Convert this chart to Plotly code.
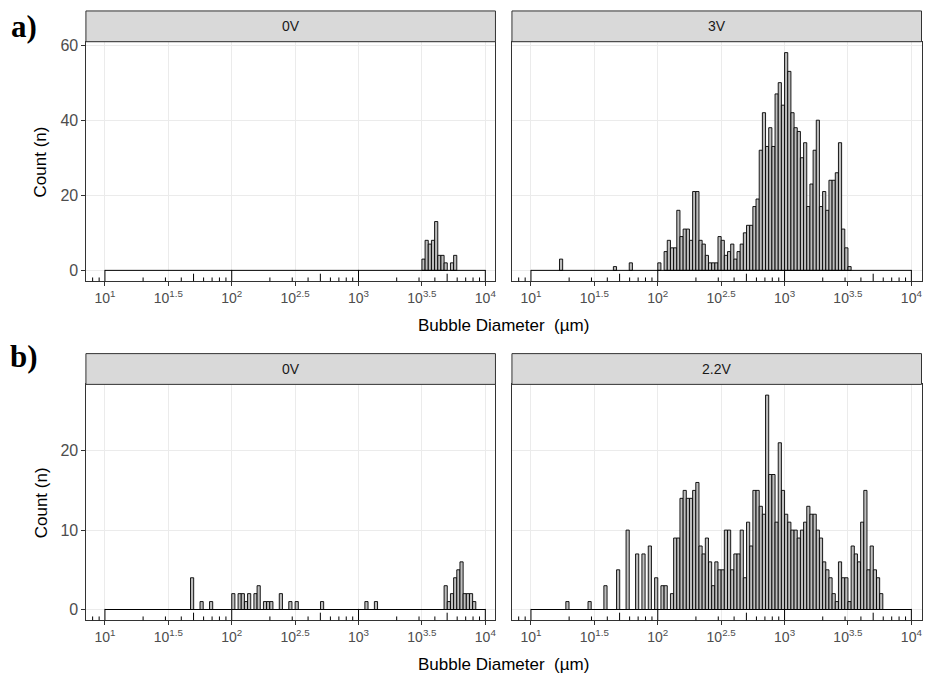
import numpy as np
import plotly.graph_objects as go

W, H = 927, 679

# ---- histogram bins on log10(diameter): 0.025-decade bins from 10^1 to 10^4 ----
BIN_WIDTH = 0.025
N_BINS = 120
bin_edges = 1.0 + BIN_WIDTH * np.arange(N_BINS + 1)
bin_mids = bin_edges[:-1] + BIN_WIDTH / 2

# ---- counts per bin: isolated bins {bin index: count} plus one contiguous run ----
a_0v_isolated = {}
a_0v_run_start = 100
a_0v_run = [3, 8, 7, 8, 13, 4, 4, 2, 0, 2, 4]

a_3v_isolated = {9: 3, 26: 1, 31: 2}
a_3v_run_start = 40
a_3v_run = [2, 0, 5, 8, 6, 6, 16, 9, 11, 11, 8, 21, 21, 8, 7, 4, 2, 2, 2, 9,
            8, 4, 5, 7, 3, 5, 7, 10, 12, 12, 17, 19, 32, 42, 33, 38, 33, 47, 50, 44,
            58, 53, 42, 38, 37, 30, 34, 17, 23, 32, 40, 17, 21, 16, 24, 24, 26, 34, 11, 6, 1]

b_0v_isolated = {27: 4, 30: 1, 33: 1, 40: 2, 42: 2, 43: 2, 44: 1, 45: 2, 47: 2, 48: 3,
                 50: 1, 51: 1, 52: 1, 55: 2, 58: 1, 60: 1, 68: 1, 82: 1, 85: 1}
b_0v_run_start = 107
b_0v_run = [3, 1, 2, 4, 5, 6, 2, 2, 2, 1]

b_22v_isolated = {11: 1, 18: 1, 23: 3, 27: 5, 30: 10, 33: 7, 35: 7, 37: 8, 39: 4, 41: 3, 42: 3}
b_22v_run_start = 44
b_22v_run = [2, 9, 9, 14, 15, 14, 14, 15, 16,
             8, 7, 9, 6, 3, 6, 5, 5, 10, 10, 5, 7, 7, 10, 4, 11, 8, 15, 15, 13, 12,
             27, 17, 17, 11, 21, 15, 12, 11, 10, 10, 9, 10, 11, 13, 12, 12, 10, 9, 6, 5,
             4, 2, 1, 6, 4, 4, 1, 8, 7, 6, 11, 15, 5, 8, 5, 4, 2]

facet_labels = ["0V", "3V", "0V", "2.2V"]
row_labels = ["a)", "b)"]
x_tick_vals = [1, 1.5, 2, 2.5, 3, 3.5, 4]
x_tick_text = ["10<sup>1</sup>", "10<sup>1.5</sup>", "10<sup>2</sup>", "10<sup>2.5</sup>",
               "10<sup>3</sup>", "10<sup>3.5</sup>", "10<sup>4</sup>"]
y_ticks_row = [[0, 20, 40, 60], [0, 10, 20]]
x_title = "Bubble Diameter  (\u00b5m)"
y_title = "Count (n)"


def bin_counts(isolated, run_start, run):
    c = np.zeros(N_BINS, dtype=int)
    for k, v in isolated.items():
        c[k] = v
    c[run_start:run_start + len(run)] = run
    return c


panel_counts = [
    bin_counts(a_0v_isolated, a_0v_run_start, a_0v_run),
    bin_counts(a_3v_isolated, a_3v_run_start, a_3v_run),
    bin_counts(b_0v_isolated, b_0v_run_start, b_0v_run),
    bin_counts(b_22v_isolated, b_22v_run_start, b_22v_run),
]
# panels in one row share their count axis
row_max = [max(panel_counts[0].max(), panel_counts[1].max()),
           max(panel_counts[2].max(), panel_counts[3].max())]

# ---- layout geometry (pixels) ----
X_RANGE = [0.85, 4.08]
col_px = [(86.0, 496.0), (512.5, 922.5)]
row_px = [(37.0, 278.3), (382.2, 619.8)]      # panel top / bottom
strip_h = 31.0
row_label_y = [22.0, 354.0]
FONT = "Liberation Sans"


def fx(px):
    return px / W


def fy(px):
    return 1 - px / H


fig = go.Figure()
layout = dict(
    width=W, height=H, margin=dict(l=0, r=0, t=0, b=0),
    paper_bgcolor="white", plot_bgcolor="white", showlegend=False,
    font=dict(family=FONT, color="#4D4D4D", size=13),
)
shapes = []
annotations = []

SHORT, MID, LONG = 3.8, 7.6, 11.4
log_tick_pos = []
for d in range(0, 5):
    for m in range(1, 10):
        v = d + np.log10(m)
        if X_RANGE[0] <= v <= X_RANGE[1]:
            log_tick_pos.append((v, LONG if m == 1 else (MID if m == 5 else SHORT)))

for i in range(4):
    r, c = divmod(i, 2)
    ax = "" if i == 0 else str(i + 1)
    xref, yref = "x" + ax, "y" + ax
    counts = panel_counts[i]
    ymax = row_max[r]
    pad = 0.05 * ymax
    top, bot = row_px[r]
    left, right = col_px[c]
    panel_h = bot - top

    layout["xaxis" + ax] = dict(
        domain=[fx(left), fx(right)], anchor=yref, range=X_RANGE,
        tickmode="array", tickvals=x_tick_vals, ticktext=x_tick_text,
        showgrid=True, gridcolor="#EBEBEB", gridwidth=1.1, zeroline=False,
        ticks="outside", ticklen=3.5, tickwidth=1, tickcolor="#333333",
        showline=True, mirror=True, linecolor="#333333", linewidth=1,
        tickfont=dict(size=14, color="#4D4D4D", family=FONT),
    )
    layout["yaxis" + ax] = dict(
        domain=[fy(bot), fy(top)], anchor=xref, range=[-pad, ymax + pad],
        tickmode="array", tickvals=y_ticks_row[r],
        showgrid=True, gridcolor="#EBEBEB", gridwidth=1.1, zeroline=False,
        ticks="outside" if c == 0 else "", ticklen=3.5, tickwidth=1, tickcolor="#333333",
        showline=True, mirror=True, linecolor="#333333", linewidth=1,
        showticklabels=(c == 0),
        tickfont=dict(size=16, color="#4D4D4D", family=FONT),
    )

    # zero-count bins collapse onto the baseline across the binned range
    fig.add_trace(go.Scatter(
        x=[bin_edges[0], bin_edges[-1]], y=[0, 0], mode="lines",
        line=dict(color="black", width=1), xaxis=xref, yaxis=yref, hoverinfo="skip"))
    mask = counts > 0
    fig.add_trace(go.Bar(
        x=bin_mids[mask], y=counts[mask], width=BIN_WIDTH,
        marker=dict(color="#BEBEBE", line=dict(color="black", width=0.9)),
        xaxis=xref, yaxis=yref))

    # logarithmic tick marks along the bottom of each panel
    for v, ln in log_tick_pos:
        shapes.append(dict(type="line", xref=xref, yref=yref + " domain",
                           x0=v, x1=v, y0=0, y1=ln / panel_h,
                           line=dict(color="black", width=1)))

    # facet strip
    shapes.append(dict(type="rect", xref="paper", yref="paper",
                       x0=fx(left), x1=fx(right), y0=fy(top), y1=fy(top - strip_h),
                       fillcolor="#D9D9D9", line=dict(color="#333333", width=1), layer="above"))
    annotations.append(dict(text=facet_labels[i], xref="paper", yref="paper",
                            x=fx((left + right) / 2), y=fy(top - strip_h / 2),
                            xanchor="center", yanchor="middle",
                            showarrow=False, font=dict(size=14, color="#1A1A1A", family=FONT)))

for r in range(2):
    top, bot = row_px[r]
    annotations.append(dict(text=y_title, xref="paper", yref="paper", textangle=-90,
                            x=fx(41), y=fy((top + bot) / 2), xanchor="center", yanchor="middle",
                            showarrow=False, font=dict(size=17, color="black", family=FONT)))
    annotations.append(dict(text=x_title, xref="paper", yref="paper",
                            x=fx((col_px[0][0] + col_px[1][1]) / 2), y=fy(bot + 45),
                            xanchor="center", yanchor="middle",
                            showarrow=False, font=dict(size=17, color="black", family=FONT)))
    annotations.append(dict(text="<b>" + row_labels[r] + "</b>", xref="paper", yref="paper",
                            x=fx(24), y=fy(row_label_y[r]), xanchor="center", yanchor="middle",
                            showarrow=False, font=dict(size=31, color="black", family="Liberation Serif")))

layout["shapes"] = shapes
layout["annotations"] = annotations
fig.update_layout(**layout)
fig.write_html("out.html")
